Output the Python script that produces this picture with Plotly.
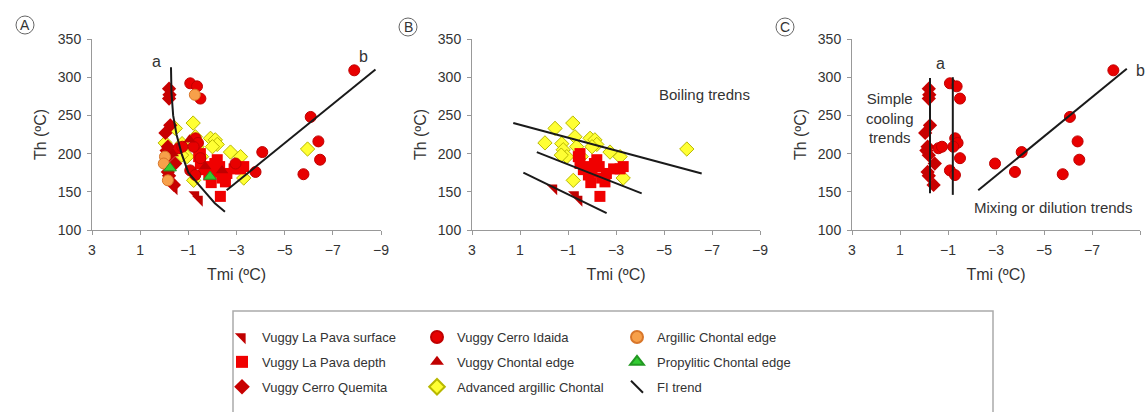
import plotly.graph_objects as go

W, H = 1148, 412
FONT = "Liberation Sans, Arial, sans-serif"
TXT = "#333333"

# ---- axis ticks -------------------------------------------------------
x_ticks = [3, 1, -1, -3, -5, -7, -9]
y_ticks = [100, 150, 200, 250, 300, 350]

# ---- fluid inclusion data: Tmi (°C) and Th (°C) -----------------------
pava_surface_tmi = [-0.4, -1.3, -1.45]
pava_surface_th = [155, 146, 140]

pava_depth_tmi = [-1.5, -1.43, -1.5, -1.64, -1.78, -1.85, -2.0, -2.1, -2.2,
                  -2.3, -2.54, -2.6, -2.9, -3.17, -3.3, -2.33, -2.4, -1.95]
pava_depth_th = [200, 196, 187, 179, 183, 172, 176, 187, 192,
                 183, 163, 174, 180, 180, 183, 144, 168, 162]

quemita_tmi = [-0.2, -0.22, -0.2, -0.25, -0.05, -0.15, -0.1, -0.2, -0.45,
               -0.15, -0.2, -0.4]
quemita_th = [285, 277, 272, 237, 227, 209, 204, 198, 187, 176, 171, 159]

idaida_tmi = [-1.08, -1.36, -1.5, -1.3, -1.4, -1.22, -1.5, -1.08, -1.29,
              -0.6, -0.75, -2.96, -3.79, -4.07, -5.78, -6.08, -6.4, -6.47,
              -7.89]
idaida_th = [292, 288, 272, 220, 214, 209, 194, 178, 172,
             207, 209, 187, 176, 202, 173, 248, 216, 192, 309]

chontal_edge_tmi = [-0.35, -1.05, -1.7, -2.4]
chontal_edge_th = [200, 218, 183, 178]

adv_argillic_tmi = [-0.46, -1.2, -0.04, -0.74, -1.29, -0.8, -0.95, -0.72,
                    -1.36, -1.92, -2.12, -2.2, -2.75, -3.17, -3.3, -1.22,
                    -5.95, -1.55, -2.0]
adv_argillic_th = [233, 240, 214, 213, 222, 205, 196, 198, 209, 220, 218,
                   212, 202, 196, 168, 165, 206, 196, 209]

argillic_tmi = [-1.27, -0.03, 0.02, -0.15]
argillic_th = [277, 196, 187, 165]

propylitic_tmi = [-0.24, -1.9]
propylitic_th = [181, 170]

# ---- FI trend lines ---------------------------------------------------
trend_a_tmi = [-0.28, -0.3, -0.37, -0.51, -0.72, -1.0, -1.69, -2.1, -2.52]
trend_a_th = [313, 280, 250, 225, 200, 175, 150, 135, 124]
trend_b_tmi = [-2.59, -8.77]
trend_b_th = [152, 310]

boil_1_tmi, boil_1_th = [1.28, -6.57], [240, 174]
boil_2_tmi, boil_2_th = [0.3, -4.07], [202, 148]
boil_3_tmi, boil_3_th = [0.86, -2.61], [175, 122]

cool_1_tmi, cool_1_th = [-0.25, -0.25], [299, 148]
cool_2_tmi, cool_2_th = [-1.2, -1.2], [300, 146]
mix_tmi, mix_th = [-2.26, -8.45], [152, 311]

# ---- layout geometry (pixels) -----------------------------------------
panel_px = {"x": (92, 381), "x2": (472, 760), "x3": (852, 1140)}
y_px = (39, 230)


def px_x(p):
    return p / W


def px_y(p):
    return 1 - p / H


fig = go.Figure()

# series: name, x, y, marker, panels, legend, rank
series = [
    ("Advanced argillic Chontal", adv_argillic_tmi, adv_argillic_th,
     dict(symbol="diamond", size=11, color="#FFFF33",
          line=dict(color="#B8B800", width=1)), ["x", "x2"], "legend2", 6),
    ("Vuggy La Pava surface", pava_surface_tmi, pava_surface_th,
     dict(symbol="triangle-ne", size=12, color="#C00000",
          line=dict(width=0)), ["x", "x2"], "legend", 1),
    ("Vuggy La Pava depth", pava_depth_tmi, pava_depth_th,
     dict(symbol="square", size=11, color="#F00000",
          line=dict(width=0)), ["x", "x2"], "legend", 2),
    ("Vuggy Cerro Quemita", quemita_tmi, quemita_th,
     dict(symbol="diamond", size=11, color="#C80000",
          line=dict(width=0)), ["x", "x3"], "legend", 3),
    ("Vuggy Cerro Idaida", idaida_tmi, idaida_th,
     dict(symbol="circle", size=11, color="#E80000",
          line=dict(color="#C00000", width=1)), ["x", "x3"], "legend2", 4),
    ("Vuggy Chontal edge", chontal_edge_tmi, chontal_edge_th,
     dict(symbol="triangle-up", size=11, color="#C00000",
          line=dict(width=0)), ["x"], "legend2", 5),
    ("Argillic Chontal edge", argillic_tmi, argillic_th,
     dict(symbol="circle", size=11, color="#F7A04A",
          line=dict(color="#D8762A", width=1)), ["x"], "legend3", 7),
    ("Propylitic Chontal edge", propylitic_tmi, propylitic_th,
     dict(symbol="triangle-up", size=11, color="#33CC33",
          line=dict(color="#229922", width=1)), ["x"], "legend3", 8),
]

for name, xs, ys, marker, panels, leg, rank in series:
    for i, ax in enumerate(panels):
        fig.add_trace(go.Scatter(
            x=xs, y=ys, mode="markers", name=name, marker=marker,
            xaxis=ax, yaxis=ax.replace("x", "y"),
            legend=leg, legendgroup=name, legendrank=rank,
            showlegend=(i == 0), cliponaxis=False,
        ))

line_style = dict(color="#1a1a1a", width=2)
trend_lines = [
    ("x", trend_a_tmi, trend_a_th), ("x", trend_b_tmi, trend_b_th),
    ("x2", boil_1_tmi, boil_1_th), ("x2", boil_2_tmi, boil_2_th),
    ("x2", boil_3_tmi, boil_3_th),
    ("x3", cool_1_tmi, cool_1_th), ("x3", cool_2_tmi, cool_2_th),
    ("x3", mix_tmi, mix_th),
]
for ax, xs, ys in trend_lines:
    fig.add_trace(go.Scatter(
        x=xs, y=ys, mode="lines", line=line_style, xaxis=ax,
        yaxis=ax.replace("x", "y"), showlegend=False, legendgroup="FI trend",
        hoverinfo="skip",
    ))

# legend entry for the trend lines
fig.add_trace(go.Scatter(
    x=[None], y=[None], mode="markers", name="FI trend",
    marker=dict(symbol="line-nw", size=13, color="#1a1a1a",
                line=dict(color="#1a1a1a", width=2)),
    legend="legend3", legendgroup="FI trend", legendrank=9,
))

axis_common = dict(
    range=[3, -9], tickvals=x_ticks, ticks="outside", ticklen=4,
    tickcolor="#999999", showline=True, linecolor="#999999", linewidth=1,
    showgrid=False, zeroline=False, tickfont=dict(size=14, color=TXT),
    ticklabelstandoff=3, automargin=False,
    title=dict(text="Tmi (ºC)", font=dict(size=16, color=TXT), standoff=12),
)
yaxis_common = dict(
    range=[100, 350], tickvals=y_ticks, ticks="outside", ticklen=4,
    tickcolor="#999999", showline=True, linecolor="#999999", linewidth=1,
    showgrid=False, zeroline=False, tickfont=dict(size=14, color=TXT),
    ticklabelstandoff=3, automargin=False,
    title=dict(text="Th (ºC)", font=dict(size=16, color=TXT), standoff=7),
    domain=[px_y(y_px[1]), px_y(y_px[0])],
)

layout_axes = {}
for ax, (l, r) in panel_px.items():
    suffix = ax[1:]
    layout_axes["xaxis" + suffix] = dict(axis_common, domain=[px_x(l), px_x(r)],
                                         anchor="y" + suffix)
    layout_axes["yaxis" + suffix] = dict(yaxis_common, anchor="x" + suffix)

ann_font = dict(family=FONT, size=16, color=TXT)
annotations = [
    dict(x=0.32, y=320, xref="x", yref="y", text="a", showarrow=False,
         font=ann_font),
    dict(x=-8.29, y=327, xref="x", yref="y", text="b", showarrow=False,
         font=ann_font),
    dict(x=-4.7, y=277, xref="x2", yref="y2", text="Boiling tredns",
         showarrow=False, xanchor="left", font=dict(ann_font, size=15)),
    dict(x=-0.67, y=318, xref="x3", yref="y3", text="a", showarrow=False,
         font=ann_font),
    dict(x=-8.75, y=309, xref="x3", yref="y3", text="b", showarrow=False,
         xanchor="left", font=ann_font),
    dict(x=1.42, y=246, xref="x3", yref="y3",
         text="Simple<br>cooling<br>trends", showarrow=False,
         font=dict(ann_font, size=15)),
    dict(x=-2.0, y=129, xref="x3", yref="y3",
         text="Mixing or dilution trends", showarrow=False, xanchor="left",
         font=dict(ann_font, size=15)),
]

# circled panel letters
shapes = []
for letter, cx, cy in [("A", 25, 25), ("B", 408, 27), ("C", 785, 27)]:
    annotations.append(dict(x=px_x(cx), y=px_y(cy), xref="paper",
                            yref="paper", text=letter, showarrow=False,
                            xanchor="center", yanchor="middle",
                            font=dict(family=FONT, size=14, color=TXT)))
    shapes.append(dict(type="circle", xref="paper", yref="paper",
                       x0=px_x(cx - 9), x1=px_x(cx + 9),
                       y0=px_y(cy + 9), y1=px_y(cy - 9),
                       line=dict(color="#666666", width=1)))

# legend frame
shapes.append(dict(type="rect", xref="paper", yref="paper",
                   x0=px_x(233), x1=px_x(993), y0=px_y(430), y1=px_y(311),
                   line=dict(color="#AAAAAA", width=1.5)))

legend_common = dict(
    orientation="v", traceorder="grouped", tracegroupgap=5,
    font=dict(family=FONT, size=13, color=TXT), bgcolor="rgba(0,0,0,0)",
    borderwidth=0, itemclick="toggle", yanchor="top", xanchor="left",
    y=px_y(322), itemsizing="constant",
)

fig.update_layout(
    width=W, height=H, margin=dict(l=0, r=0, t=0, b=0),
    paper_bgcolor="white", plot_bgcolor="white",
    font=dict(family=FONT, color=TXT),
    legend=dict(legend_common, x=px_x(222)),
    legend2=dict(legend_common, x=px_x(417)),
    legend3=dict(legend_common, x=px_x(617)),
    annotations=annotations, shapes=shapes,
    **layout_axes,
)

fig.write_html("out.html")
